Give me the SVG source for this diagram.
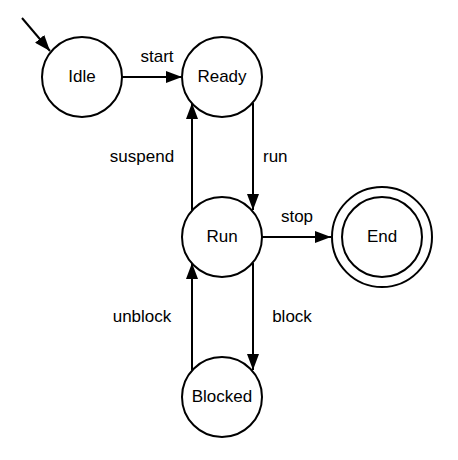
<svg xmlns="http://www.w3.org/2000/svg" width="458" height="460" viewBox="0 0 458 460">
<defs>
<style>
.st{fill:#fff;stroke:#000;stroke-width:2}
.lbl{font-family:"Liberation Sans",Arial,sans-serif;font-size:17px;fill:#000}
.c{text-anchor:middle}
.e{fill:none;stroke:#000;stroke-width:2}
</style>
<marker id="ah" viewBox="0 0 16 12" refX="16" refY="6" markerWidth="16" markerHeight="12" markerUnits="userSpaceOnUse" orient="auto">
<path d="M0,0 L16,6 L0,12 z" fill="#000"/>
</marker>
</defs>
<rect width="458" height="460" fill="#fff"/>
<g id="connectors">
<path class="e" d="M22,18 L50,51" marker-end="url(#ah)"/>
<path class="e" d="M122,77 L182,77" marker-end="url(#ah)"/>
<path class="e" d="M253,103 L253,210" marker-end="url(#ah)"/>
<path class="e" d="M192,210 L192,103" marker-end="url(#ah)"/>
<path class="e" d="M262,237 L331,237" marker-end="url(#ah)"/>
<path class="e" d="M253,263 L253,370" marker-end="url(#ah)"/>
<path class="e" d="M192,370 L192,263" marker-end="url(#ah)"/>
<text class="lbl c" x="157" y="62">start</text>
<text class="lbl c" x="142" y="162">suspend</text>
<text class="lbl" x="263" y="162">run</text>
<text class="lbl c" x="297" y="222">stop</text>
<text class="lbl c" x="142" y="322">unblock</text>
<text class="lbl c" x="292" y="322">block</text>
</g>
<g id="idle"><circle class="st" cx="82" cy="77" r="40"/><text class="lbl c" x="82" y="82">Idle</text></g>
<g id="ready"><circle class="st" cx="222" cy="77" r="40"/><text class="lbl c" x="222" y="82">Ready</text></g>
<g id="run"><circle class="st" cx="222" cy="237" r="40"/><text class="lbl c" x="222" y="242">Run</text></g>
<g id="end"><circle class="st" cx="382" cy="237" r="50"/><circle class="st" cx="382" cy="237" r="40"/><text class="lbl c" x="382" y="242">End</text></g>
<g id="blocked"><circle class="st" cx="222" cy="397" r="40"/><text class="lbl c" x="222" y="402">Blocked</text></g>
</svg>
